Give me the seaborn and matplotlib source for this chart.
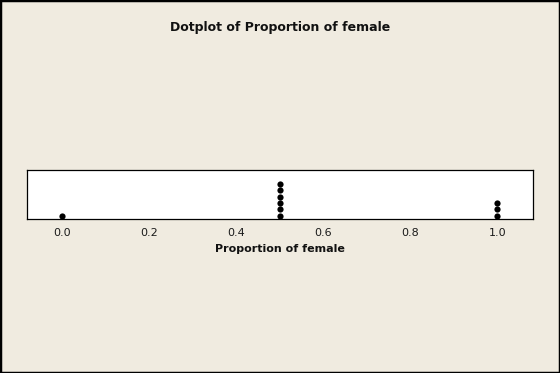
import matplotlib
matplotlib.use("Agg")
import matplotlib.pyplot as plt
import seaborn as sns
import pandas as pd
from matplotlib.patches import Rectangle

# Data: observed proportions of female
proportion = [0.0, 0.5, 0.5, 0.5, 0.5, 0.5, 0.5, 1.0, 1.0, 1.0]
tick_values = [0.0, 0.2, 0.4, 0.6, 0.8, 1.0]
tick_labels = ["0.0", "0.2", "0.4", "0.6", "0.8", "1.0"]
title = "Dotplot of Proportion of female"
xlabel = "Proportion of female"

df = pd.DataFrame({"value": proportion})
df["stack"] = df.groupby("value").cumcount()

bg = "#F0EBE0"
sns.set_style("white")
plt.rcParams["font.family"] = ["DejaVu Sans"]

fig = plt.figure(figsize=(5.6, 3.73), dpi=100, facecolor=bg)
ax = fig.add_axes([27/560, (373-218.5)/373, (533-27)/560, 48.5/373])
ax.set_facecolor("white")

sns.scatterplot(data=df, x="value", y="stack", ax=ax, color="black",
                s=20, edgecolor="black", linewidth=0, legend=False, clip_on=False)

ax.set_xlim(-0.081, 1.082)
ax.set_ylim(-0.4, 7.1)
ax.set_yticks([])
ax.set_ylabel("")
ax.set_xticks(tick_values)
ax.set_xticklabels(tick_labels, fontsize=8, color="#1a1a1a")
ax.tick_params(axis="x", direction="out", length=3, width=0.8, pad=4, color="black")
ax.set_xlabel(xlabel, fontsize=8, fontweight="bold", labelpad=4, color="#111111")
for s in ax.spines.values():
    s.set_visible(True)
    s.set_color("black")
    s.set_linewidth(0.9)

fig.text(0.5, 1 - 27/373, title, ha="center", va="center",
         fontsize=9, fontweight="bold", color="#111111")

# figure border
fig.patches.append(Rectangle((0, 0), 1, 1, transform=fig.transFigure,
                             fill=False, edgecolor="black", linewidth=2.5))

fig.savefig("out.png", dpi=100, facecolor=bg)
